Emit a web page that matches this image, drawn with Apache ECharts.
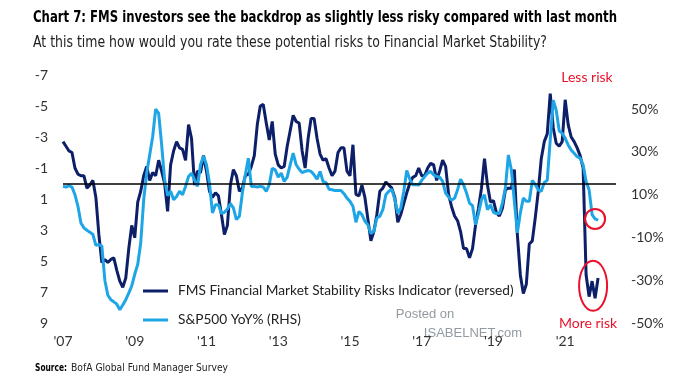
<!DOCTYPE html>
<html><head><meta charset="utf-8">
<script src="https://cdn.jsdelivr.net/npm/echarts@6/dist/echarts.min.js"></script>
<style>html,body{margin:0;padding:0;background:#fff}#c{width:700px;height:380px}</style>
</head><body><div id="c"></div>
<script>
// ---- data ----
const startYear = 2007, startMonth = 6;      // first observation: June 2007
const axisMonths = 186;                       // axis runs to Nov 2022
const xTickLabels = ["'07", "'09", "'11", "'13", "'15", "'17", "'19", "'21"];
const fmsName = 'FMS Financial Market Stability Risks Indicator (reversed)';
const spxName = 'S&P500 YoY% (RHS)';
const titleText = 'Chart 7: FMS investors see the backdrop as slightly less risky compared with last month';
const subtitleText = 'At this time how would you rate these potential risks to Financial Market Stability?';
const sourceLabel = 'Source:';
const sourceText = 'BofA Global Fund Manager Survey';

const fmsRisk = [
  -2.7, -2.4, -2.1, -2.0, -1.0, -0.6, -0.5, -0.5, 0.3, 0.1, -0.2, 0.9,
  3.3, 5.1, 4.9, 5.1, 4.9, 4.8, 5.6, 6.3, 6.7, 6.1, 4.2, 2.7,
  3.5, 1.2, 0.5, -0.5, -1.1, -0.2, -0.7, -0.5, -1.5, -0.8, 0.0, 1.8,
  -1.2, -2.1, -2.7, -2.3, -2.2, -1.5, -3.8, -2.9, 0.1, -0.8, -0.7, -1.8,
  -0.8, 0.5, 0.9, 0.6, 0.8, 2.0, 3.3, 2.7, 0.1, -0.9, -0.5, 0.5,
  0.3, -0.5, -0.6, -1.1, -1.8, -3.8, -5.0, -5.1, -3.9, -2.8, -4.0, -1.9,
  -1.2, -1.0, -1.1, -2.4, -3.4, -4.4, -4.0, -3.9, -2.1, -1.0, -2.9, -4.2,
  -4.2, -2.9, -1.9, -1.5, -1.6, -1.0, -0.5, -0.8, -2.0, -2.3, -2.3, -0.8,
  -0.5, -2.5, 0.7, 0.8, 0.1, 0.9, 2.3, 3.7, 3.1, 2.0, 0.5, 0.3,
  -0.1, 0.1, 0.3, 0.9, 2.5, 2.0, 1.3, 0.6, 0.0, -0.4, -0.5, -1.0,
  -0.5, -0.5, -1.0, -1.3, -1.2, -0.2, -0.8, -1.5, -1.1, 0.7, 1.5, 2.1,
  2.4, 3.1, 4.2, 4.2, 4.8, 4.2, 2.7, 1.6, 0.3, -1.6, 0.1, 1.2,
  1.1, 1.9, 2.1, 1.6, 0.4, 0.3, 0.3, -0.9, 3.3, 5.9, 7.1, 6.5,
  3.9, 3.7, 2.2, 0.5, -1.6, -2.7, -3.2, -5.8, -3.6, -2.6, -2.4, -2.7,
  -5.4, -3.8, -3.0, -2.7, -2.3, -1.8, -1.0, 5.9, 7.3, 6.3, 7.4, 6.1
];

const spxYoY = [
  13.9, 13.6, 14.2, 13.6, 10.0, 4.6, -3.2, -5.5, -6.6, -7.5, -8.6, -13.7,
  -13.3, -14.0, -30.0, -37.0, -39.1, -40.1, -41.2, -43.8, -41.6, -39.1, -36.0, -32.6,
  -27.2, -22.6, -12.5, 7.7, 20.1, 28.6, 37.1, 50.0, 48.0, 33.3, 17.0, 9.5,
  11.6, 7.7, 9.2, 11.6, 10.0, 13.9, 18.5, 20.1, 17.0, 13.9, 24.0, 28.1,
  24.0, 15.4, 1.5, 5.3, 5.3, 1.2, 1.8, 3.3, 5.8, 3.8, -1.6, -0.1,
  10.8, 19.3, 27.1, 13.9, 13.9, 13.6, 13.9, 13.6, 11.6, 14.7, 22.4, 21.6,
  18.2, 20.1, 16.2, 18.2, 24.0, 29.4, 24.0, 21.9, 20.4, 20.9, 21.3, 20.9,
  19.3, 17.3, 20.9, 16.2, 15.7, 12.6, 12.3, 12.0, 12.0, 12.0, 10.5, 8.4,
  6.9, 4.6, -2.9, 2.2, 0.7, -2.4, -4.0, -8.1, -7.1, -0.9, -0.1, 3.0,
  10.0, 11.6, 12.6, 7.7, 1.2, 3.8, 11.6, 21.3, 17.3, 14.7, 14.8, 14.5,
  16.7, 18.5, 20.1, 20.9, 19.3, 18.5, 18.2, 16.2, 10.8, 8.9, 7.4, 8.4,
  12.3, 17.3, 14.7, 10.8, 6.1, 4.9, -4.0, 1.2, 7.7, 10.0, 3.0, 5.3,
  1.8, 1.2, 1.2, 6.1, 13.1, 28.6, 21.6, 6.9, -7.8, 1.5, 8.4, 6.9,
  6.9, 16.7, 14.7, 12.3, 11.6, 15.7, 16.7, 35.6, 54.2, 49.5, 39.9, 38.7,
  36.4, 33.3, 30.9, 29.4, 27.8, 27.1, 24.0, 16.2, 12.3, 0.7, -1.3, -1.9
];

// ---- build ----
const months = [];
for (let k = 0; k < axisMonths; k++) {
  const m0 = startMonth - 1 + k;
  const y = startYear + Math.floor(m0 / 12);
  const m = (m0 % 12) + 1;
  months.push(y + '-' + (m < 10 ? '0' + m : m));
}
const cond = "'DejaVu Sans Condensed', 'DejaVu Sans', sans-serif";
const body = "Lato, 'Open Sans', sans-serif";
const navy = '#0c1f68', sky = '#1ea5e6', red = '#e8122d';

const mctx = document.createElement('canvas').getContext('2d');
function fitScale(text, font, target) {
  mctx.font = font;
  return target / mctx.measureText(text).width;
}
const titleFont = 'bold 16px ' + cond;
const subFont = '15px ' + cond;
const srcBoldFont = 'bold 11px ' + cond;
const srcFont = '11px ' + cond;
const sTitle = fitScale(titleText, titleFont, 584);
const sSub = fitScale(subtitleText, subFont, 514);
const sSrcB = fitScale(sourceLabel, srcBoldFont, 32);
const sSrc = fitScale(sourceText, srcFont, 157);

const chart = echarts.init(document.getElementById('c'), null, {renderer: 'canvas'});
chart.setOption({
  animation: false,
  backgroundColor: '#fff',
  legend: {
    orient: 'vertical', left: 138, top: 279, itemWidth: 25, itemHeight: 3, itemGap: 15,
    icon: 'rect',
    textStyle: {fontFamily: body, fontSize: 13.7, color: '#222', padding: [0, 0, 0, 5]},
    data: [fmsName, spxName]
  },
  grid: {left: 63, right: 84, top: 75, bottom: 57},
  xAxis: {
    type: 'category', data: months, boundaryGap: false,
    axisLine: {show: false}, axisTick: {show: false},
    axisLabel: {interval: 23, margin: 11, color: '#333', fontFamily: body, fontSize: 14,
      formatter: (v, i) => xTickLabels[Math.round(i / 24)] || ''},
    splitLine: {show: false}
  },
  yAxis: [
    {type: 'value', inverse: true, min: -7, max: 9, interval: 2,
     axisLine: {show: false}, axisTick: {show: false}, splitLine: {show: false},
     axisLabel: {margin: 15, color: '#333', fontFamily: body, fontSize: 14}},
    {type: 'value', min: -50, max: 66, interval: 20, position: 'right',
     axisLine: {show: false}, axisTick: {show: false}, splitLine: {show: false},
     axisLabel: {margin: 15, color: '#333', fontFamily: body, fontSize: 14, showMaxLabel: false,
       formatter: v => v + '%'}}
  ],
  series: [
    {name: fmsName, type: 'line', yAxisIndex: 0, data: fmsRisk, symbol: 'none',
     color: navy, lineStyle: {color: navy, width: 3}, z: 3,
     markLine: {silent: true, symbol: 'none', label: {show: false},
       lineStyle: {color: '#000', width: 1.5, type: 'solid'}, data: [{yAxis: 0}]}},
    {name: spxName, type: 'line', yAxisIndex: 1, data: spxYoY, symbol: 'none',
     color: sky, lineStyle: {color: sky, width: 3}, z: 4}
  ]
});

// annotations placed from the data positions
const n = spxYoY.length;
const pSmall = chart.convertToPixel({xAxisIndex: 0, yAxisIndex: 1}, [months[n - 2], spxYoY[n - 2]]);
const wAvg = (fmsRisk[n-5] + fmsRisk[n-4] + fmsRisk[n-3] + fmsRisk[n-2] + fmsRisk[n-1]) / 5;
const pBig = chart.convertToPixel({xAxisIndex: 0, yAxisIndex: 0}, [months[n - 3], wAvg]);
chart.setOption({
  graphic: [
    {type: 'text', x: 33, y: 10, scaleX: sTitle,
     style: {text: titleText, fill: '#000', font: titleFont, textAlign: 'left', textVerticalAlign: 'top'}},
    {type: 'text', x: 33, y: 36, scaleX: sSub,
     style: {text: subtitleText, fill: '#222', font: subFont, textAlign: 'left', textVerticalAlign: 'top'}},
    {type: 'text', x: 35, y: 368, scaleX: sSrcB,
     style: {text: sourceLabel, fill: '#000', font: srcBoldFont, textAlign: 'left', textVerticalAlign: 'middle'}},
    {type: 'text', x: 71, y: 368, scaleX: sSrc,
     style: {text: sourceText, fill: '#222', font: srcFont, textAlign: 'left', textVerticalAlign: 'middle'}},
    {type: 'ellipse', shape: {cx: pSmall[0], cy: pSmall[1], rx: 10, ry: 10},
     style: {fill: 'none', stroke: red, lineWidth: 2}, z: 10},
    {type: 'ellipse', shape: {cx: pBig[0] + 1, cy: pBig[1], rx: 14, ry: 25},
     style: {fill: 'none', stroke: red, lineWidth: 2}, z: 10},
    {type: 'text', x: 587, y: 77, style: {text: 'Less risk', fill: red, font: '14px ' + body,
      textAlign: 'center', textVerticalAlign: 'middle'}},
    {type: 'text', x: 588, y: 323, style: {text: 'More risk', fill: red, font: '14px ' + body,
      textAlign: 'center', textVerticalAlign: 'middle'}},
    {type: 'text', x: 425, y: 314, z: 0, style: {text: 'Posted on', fill: 'rgba(110,120,130,0.75)',
      font: '13px "Liberation Sans", Arial, sans-serif', textAlign: 'center', textVerticalAlign: 'middle'}},
    {type: 'text', x: 473, y: 333, z: 0, style: {text: 'ISABELNET.com', fill: 'rgba(110,120,130,0.75)',
      font: '13px "Liberation Sans", Arial, sans-serif', textAlign: 'center', textVerticalAlign: 'middle'}}
  ]
});
</script></body></html>
